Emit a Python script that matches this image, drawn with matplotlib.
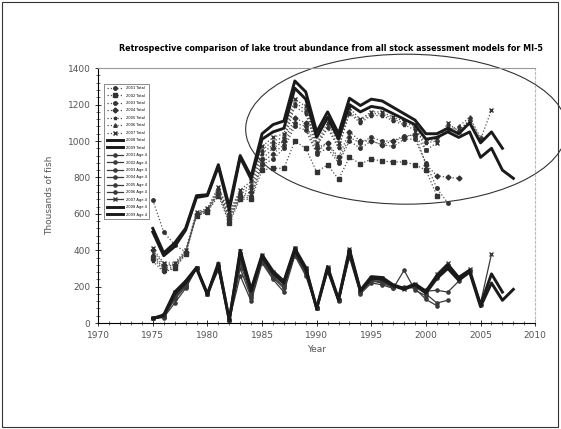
import matplotlib.pyplot as plt
from matplotlib.patches import Ellipse, Rectangle
import numpy as np

# 数据
start_year = 1975
early_2002 = [360, 290, 300, 380, 590, 610, 700, 550, 680, 680]
early_2003 = [370, 300, 310, 385, 595, 615, 710, 560, 690, 690]
early_2004 = [400, 320, 320, 390, 600, 620, 720, 570, 700, 720]
early_2005 = [340, 280, 300, 380, 590, 610, 730, 590, 710, 740]
early_2006 = [380, 310, 320, 390, 600, 625, 740, 600, 720, 760]
early_2007 = [410, 330, 330, 400, 610, 630, 750, 610, 730, 780]

total_2001 = [675, 500, 430, 390, 600, 620, 720, 580, 700, 700,
              880, 930, 980, 1100, 1080, 940, 990, 890, 1020, 990,
              1020, 1000, 1000, 1030, 1030, 950]
total_2002 = early_2002 + [840, 850, 850, 1000, 960, 830, 870, 790, 910, 875,
                           900, 890, 885, 885, 870, 840, 700]
total_2003 = early_2003 + [870, 900, 960, 1080, 1060, 930, 960, 880, 1000, 960,
                           1000, 980, 970, 1010, 1010, 880, 740, 660]
total_2004 = early_2004 + [900, 960, 1000, 1125, 1100, 960, 990, 910, 1050, 1000,
                           1000, 980, 1000, 1020, 1040, 870, 810, 800, 795]
total_2005 = early_2005 + [930, 980, 1000, 1190, 1150, 970, 1070, 960, 1150, 1100,
                           1140, 1140, 1110, 1090, 1060, 990, 1000, 1080, 1060, 1110]
total_2006 = early_2006 + [950, 1000, 1020, 1210, 1170, 980, 1080, 970, 1160, 1110,
                           1150, 1150, 1120, 1100, 1080, 1000, 1010, 1060, 1080, 1130, 1020]
total_2007 = early_2007 + [970, 1020, 1040, 1230, 1190, 990, 1100, 990, 1180, 1120,
                           1160, 1160, 1130, 1110, 1090, 950, 990, 1100, 1050, 1120, 1010, 1170]
total_2008 = [520, 385, 440, 520, 700, 705, 870, 640, 920, 805,
              1040, 1090, 1110, 1330, 1270, 1050, 1160, 1040, 1235, 1195,
              1230, 1220, 1185, 1150, 1115, 1040, 1040, 1070, 1040, 1100,
              990, 1050, 960]
total_2009 = [500, 370, 420, 510, 690, 700, 860, 620, 910, 790,
              1010, 1050, 1070, 1290, 1230, 1020, 1130, 1010, 1200, 1160,
              1190, 1180, 1150, 1120, 1090, 1010, 1020, 1050, 1020, 1050,
              910, 960, 840, 795]

age_2001 = [25, 30, 110, 190, 300, 160, 290, 15, 260, 120,
            330, 240, 170, 370, 260, 80, 280, 120, 360, 160,
            220, 210, 190, 290, 180, 150]
age_2002 = [25, 35, 130, 200, 300, 165, 300, 15, 300, 140,
            340, 250, 190, 380, 270, 80, 290, 125, 370, 170,
            230, 220, 195, 200, 190, 130, 95]
age_2003 = [25, 35, 140, 205, 300, 165, 305, 15, 330, 150,
            350, 255, 200, 390, 280, 80, 295, 125, 380, 170,
            235, 225, 200, 195, 200, 160, 110, 125]
age_2004 = [25, 40, 150, 210, 300, 165, 310, 15, 350, 160,
            360, 265, 210, 400, 290, 80, 300, 125, 390, 170,
            240, 235, 200, 195, 200, 175, 180, 170, 230]
age_2005 = [25, 40, 160, 215, 300, 165, 315, 15, 370, 170,
            365, 270, 215, 405, 295, 80, 305, 125, 395, 175,
            245, 240, 205, 195, 205, 180, 250, 300, 240, 280]
age_2006 = [25, 40, 165, 220, 300, 160, 320, 15, 385, 175,
            370, 275, 220, 410, 300, 80, 305, 125, 400, 175,
            250, 245, 205, 190, 210, 175, 260, 320, 250, 290, 100]
age_2007 = [25, 45, 170, 225, 305, 160, 325, 15, 395, 180,
            375, 280, 225, 410, 305, 80, 310, 125, 405, 180,
            250, 245, 210, 185, 215, 170, 270, 330, 255, 295, 110, 380]
age_2008 = [25, 45, 170, 230, 305, 160, 330, 15, 400, 185,
            375, 285, 230, 410, 305, 80, 310, 130, 405, 180,
            255, 250, 210, 190, 215, 175, 260, 320, 250, 290,
            100, 270, 170]
age_2009 = [25, 40, 160, 220, 300, 155, 320, 15, 385, 175,
            365, 275, 220, 400, 295, 80, 300, 125, 395, 175,
            245, 240, 205, 185, 210, 165, 245, 300, 235, 280,
            90, 220, 125, 185]

total_series = [total_2001, total_2002, total_2003, total_2004, total_2005,
                total_2006, total_2007, total_2008, total_2009]
age_series = [age_2001, age_2002, age_2003, age_2004, age_2005,
              age_2006, age_2007, age_2008, age_2009]
assess_years = [2001, 2002, 2003, 2004, 2005, 2006, 2007, 2008, 2009]

dash_markers = ['o', 's', 'o', 'D', '*', '^', 'x']

fig = plt.figure(figsize=(5.61, 4.29), dpi=100)
ax = fig.add_axes([0.175, 0.247, 0.779, 0.594])

# Total abundance
for i, vals in enumerate(total_series):
    yrs = np.arange(start_year, start_year + len(vals))
    lab = "%d Total" % assess_years[i]
    if i < 7:
        ax.plot(yrs, vals, linestyle=':', color='#505050', lw=0.9,
                marker=dash_markers[i], markersize=2.5, markeredgecolor='#333333',
                markerfacecolor='#333333', label=lab)
    else:
        ax.plot(yrs, vals, '-', color='#1a1a1a', lw=2.1, label=lab)

# Age 4 recruits
for i, vals in enumerate(age_series):
    yrs = np.arange(start_year, start_year + len(vals))
    lab = "%d Age 4" % assess_years[i]
    if i < 7:
        mk = 'x' if i == 6 else 'o'
        ax.plot(yrs, vals, '-', color='#3a3a3a', lw=0.9,
                marker=mk, markersize=2.3, label=lab)
    else:
        ax.plot(yrs, vals, '-', color='#1a1a1a', lw=2.1, label=lab)

ax.set_xlim(1970, 2010)
ax.set_ylim(0, 1400)
ax.set_xticks(range(1970, 2011, 5))
ax.set_yticks(range(0, 1401, 200))
ax.set_xticks(range(1970, 2011), minor=True)
ax.set_yticks(range(0, 1401, 40), minor=True)
ax.tick_params(which='major', direction='inout', length=4, width=0.7,
               labelsize=6.5, labelcolor='#555555', color='#333333')
ax.tick_params(which='minor', direction='inout', length=2.5, width=0.5, color='#333333')
ax.spines['top'].set_color('#999999')
ax.spines['right'].set_color('#bbbbbb')
ax.spines['right'].set_linestyle((0, (2, 2)))
ax.spines['left'].set_linewidth(0.8)
ax.spines['bottom'].set_linewidth(0.8)

ax.set_xlabel('Year', fontsize=6.5, color='#555555', labelpad=4)
ax.set_ylabel('Thousands of fish', fontsize=6.5, color='#555555', labelpad=10)

leg = ax.legend(loc='upper left', bbox_to_anchor=(0.01, 0.945), fontsize=2.6,
                handlelength=4.5, labelspacing=0.95, borderpad=0.6,
                frameon=True, fancybox=False, edgecolor='#555555')
leg.get_frame().set_linewidth(0.6)

# circled region
ell = Ellipse((1998.2, 1065), 29.4, 824, fill=False, edgecolor='#333333',
              lw=0.8, clip_on=False)
ax.add_patch(ell)

fig.text(0.59, 0.888, 'Retrospective comparison of lake trout abundance from all stock assessment models for MI-5',
         ha='center', va='center', fontsize=5.8, fontweight='bold')

# page border from the scan
fig.patches.append(Rectangle((0.004, 0.005), 0.991, 0.99, transform=fig.transFigure,
                             fill=False, edgecolor='#333333', lw=0.8))

fig.savefig('out.png', dpi=100)
